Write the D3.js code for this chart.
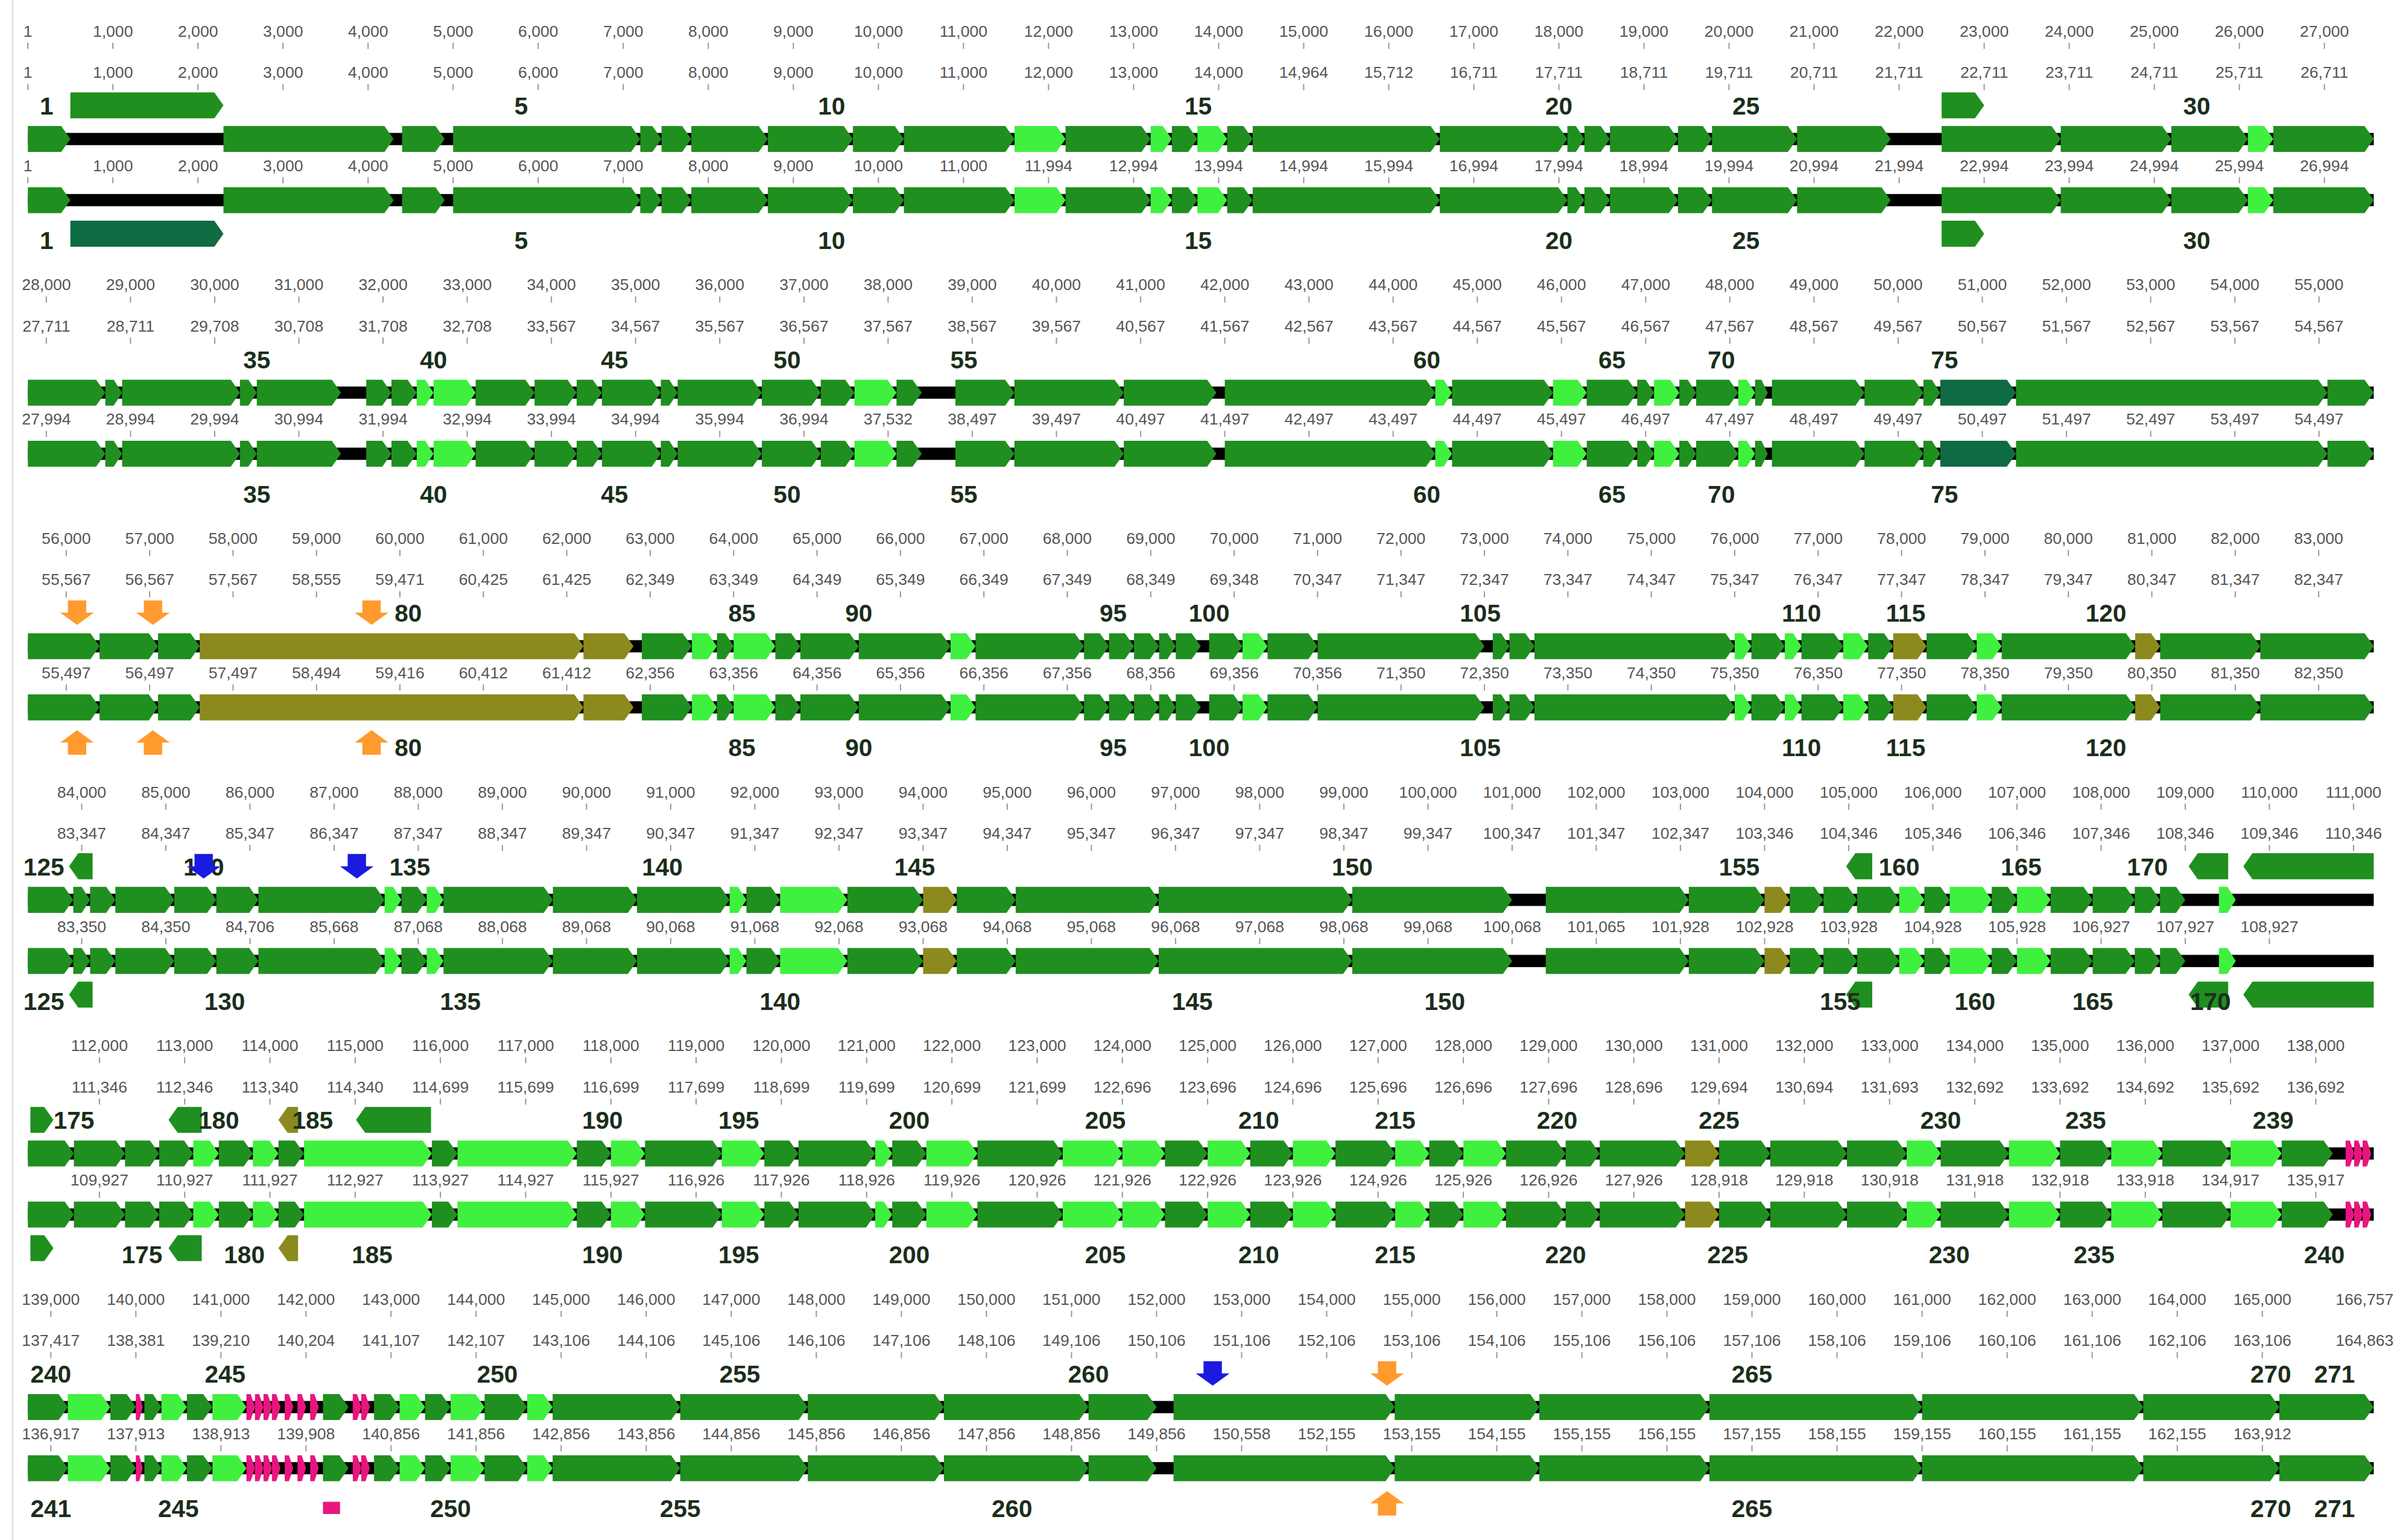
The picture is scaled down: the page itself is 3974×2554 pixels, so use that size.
<!DOCTYPE html>
<html><head><meta charset="utf-8">
<script src="https://cdn.jsdelivr.net/npm/d3@7"></script>
<style>body{margin:0;background:#fff}svg{display:block}</style>
</head><body>
<script>
// ---- DATA (kb) ----
const rowDomains = [[0,27.58],[27.78,55.65],[55.54,83.66],[83.36,111.24],[111.16,138.68],[138.73,166.31]];
const topTicks = [
 d3.range(0,28).map(i=>i*1000),
 d3.range(28,56).map(i=>i*1000),
 d3.range(56,84).map(i=>i*1000),
 d3.range(84,112).map(i=>i*1000),
 d3.range(112,139).map(i=>i*1000),
 d3.range(139,166).map(i=>i*1000).concat([166757])
];
const ruler2Labels = [
 [1,1000,2000,3000,4000,5000,6000,7000,8000,9000,10000,11000,12000,13000,14000,14964,15712,16711,17711,18711,19711,20711,21711,22711,23711,24711,25711,26711],
 [27711,28711,29708,30708,31708,32708,33567,34567,35567,36567,37567,38567,39567,40567,41567,42567,43567,44567,45567,46567,47567,48567,49567,50567,51567,52567,53567,54567],
 [55567,56567,57567,58555,59471,60425,61425,62349,63349,64349,65349,66349,67349,68349,69348,70347,71347,72347,73347,74347,75347,76347,77347,78347,79347,80347,81347,82347],
 [83347,84347,85347,86347,87347,88347,89347,90347,91347,92347,93347,94347,95347,96347,97347,98347,99347,100347,101347,102347,103346,104346,105346,106346,107346,108346,109346,110346],
 [111346,112346,113340,114340,114699,115699,116699,117699,118699,119699,120699,121699,122696,123696,124696,125696,126696,127696,128696,129694,130694,131693,132692,133692,134692,135692,136692],
 [137417,138381,139210,140204,141107,142107,143106,144106,145106,146106,147106,148106,149106,150106,151106,152106,153106,154106,155106,156106,157106,158106,159106,160106,161106,162106,163106,164863]
];
const ruler3Labels = [
 [1,1000,2000,3000,4000,5000,6000,7000,8000,9000,10000,11000,11994,12994,13994,14994,15994,16994,17994,18994,19994,20994,21994,22994,23994,24994,25994,26994],
 [27994,28994,29994,30994,31994,32994,33994,34994,35994,36994,37532,38497,39497,40497,41497,42497,43497,44497,45497,46497,47497,48497,49497,50497,51497,52497,53497,54497],
 [55497,56497,57497,58494,59416,60412,61412,62356,63356,64356,65356,66356,67356,68356,69356,70356,71350,72350,73350,74350,75350,76350,77350,78350,79350,80350,81350,82350],
 [83350,84350,84706,85668,87068,88068,89068,90068,91068,92068,93068,94068,95068,96068,97068,98068,99068,100068,101065,101928,102928,103928,104928,105928,106927,107927,108927],
 [109927,110927,111927,112927,113927,114927,115927,116926,117926,118926,119926,120926,121926,122926,123926,124926,125926,126926,127926,128918,129918,130918,131918,132918,133918,134917,135917],
 [136917,137913,138913,139908,140856,141856,142856,143856,144856,145856,146856,147856,148856,149856,150558,152155,153155,154155,155155,156155,157155,158155,159155,160155,161155,162155,163912]
];
const genes = [
 [[0,0.5,'g'],[2.3,4.3,'g'],[4.4,4.9,'g'],[5.0,7.2,'g'],[7.2,7.45,'g'],[7.45,7.8,'g'],[7.8,8.7,'g'],[8.7,9.7,'g'],[9.7,10.3,'g'],[10.3,11.6,'g'],[11.6,12.2,'l'],[12.2,13.2,'g'],[13.2,13.45,'l'],[13.45,13.75,'g'],[13.75,14.1,'l'],[14.1,14.4,'g'],[14.4,16.6,'g'],[16.6,18.1,'g'],[18.1,18.3,'g'],[18.3,18.6,'g'],[18.6,19.4,'g'],[19.4,19.8,'g'],[19.8,20.8,'g'],[20.8,21.9,'g'],[22.5,23.9,'g'],[23.9,25.2,'g'],[25.2,26.1,'g'],[26.1,26.4,'l'],[26.4,27.58,'g']],
 [[27.78,28.7,'g'],[28.7,28.9,'g'],[28.9,30.3,'g'],[30.3,30.5,'g'],[30.5,31.5,'g'],[31.8,32.1,'g'],[32.1,32.4,'g'],[32.4,32.6,'l'],[32.6,33.1,'l'],[33.1,33.8,'g'],[33.8,34.3,'g'],[34.3,34.6,'g'],[34.6,35.3,'g'],[35.3,35.5,'g'],[35.5,36.5,'g'],[36.5,37.2,'g'],[37.2,37.6,'g'],[37.6,38.1,'l'],[38.1,38.4,'g'],[38.8,39.5,'g'],[39.5,40.8,'g'],[40.8,41.9,'g'],[42.0,44.5,'g'],[44.5,44.7,'l'],[44.7,45.9,'g'],[45.9,46.3,'l'],[46.3,46.9,'g'],[46.9,47.1,'g'],[47.1,47.4,'l'],[47.4,47.6,'g'],[47.6,48.1,'g'],[48.1,48.3,'l'],[48.3,48.45,'g'],[48.5,49.6,'g'],[49.6,50.3,'g'],[50.3,50.5,'g'],[50.5,51.4,'d'],[51.4,55.1,'g'],[55.1,55.65,'g']],
 [[55.54,56.4,'g'],[56.4,57.1,'g'],[57.1,57.6,'g'],[57.6,62.2,'o'],[62.2,62.8,'o'],[62.9,63.5,'g'],[63.5,63.8,'l'],[63.8,64.0,'g'],[64.0,64.5,'l'],[64.5,64.8,'g'],[64.8,65.5,'g'],[65.5,66.6,'g'],[66.6,66.9,'l'],[66.9,68.2,'g'],[68.2,68.5,'g'],[68.5,68.8,'g'],[68.8,69.1,'g'],[69.1,69.3,'g'],[69.3,69.6,'g'],[69.7,70.1,'g'],[70.1,70.4,'l'],[70.4,71.0,'g'],[71.0,73.0,'g'],[73.1,73.3,'g'],[73.3,73.6,'g'],[73.6,76.0,'g'],[76.0,76.2,'l'],[76.2,76.6,'g'],[76.6,76.8,'l'],[76.8,77.3,'g'],[77.3,77.6,'l'],[77.6,77.9,'g'],[77.9,78.3,'o'],[78.3,78.9,'g'],[78.9,79.2,'l'],[79.2,80.8,'g'],[80.8,81.1,'o'],[81.1,82.3,'g'],[82.3,83.66,'g']],
 [[83.36,83.9,'g'],[83.9,84.1,'g'],[84.1,84.4,'g'],[84.4,85.1,'g'],[85.1,85.6,'g'],[85.6,86.1,'g'],[86.1,87.6,'g'],[87.6,87.8,'l'],[87.8,88.1,'g'],[88.1,88.3,'l'],[88.3,89.6,'g'],[89.6,90.6,'g'],[90.6,91.7,'g'],[91.7,91.9,'l'],[91.9,92.3,'g'],[92.3,93.1,'l'],[93.1,94.0,'g'],[94.0,94.4,'o'],[94.4,95.1,'g'],[95.1,96.8,'g'],[96.8,99.1,'g'],[99.1,101.0,'g'],[101.4,103.1,'g'],[103.1,104.0,'g'],[104.0,104.3,'o'],[104.3,104.7,'g'],[104.7,105.1,'g'],[105.1,105.6,'g'],[105.6,105.9,'l'],[105.9,106.2,'g'],[106.2,106.7,'l'],[106.7,107.0,'g'],[107.0,107.4,'l'],[107.4,107.9,'g'],[107.9,108.4,'g'],[108.4,108.7,'g'],[108.7,109.0,'g'],[109.4,109.6,'l']],
 [[111.16,111.7,'g'],[111.7,112.3,'g'],[112.3,112.7,'g'],[112.7,113.1,'g'],[113.1,113.4,'l'],[113.4,113.8,'g'],[113.8,114.1,'l'],[114.1,114.4,'g'],[114.4,115.9,'l'],[115.9,116.2,'g'],[116.2,117.6,'l'],[117.6,118.0,'g'],[118.0,118.4,'l'],[118.4,119.3,'g'],[119.3,119.8,'l'],[119.8,120.2,'g'],[120.2,121.1,'g'],[121.1,121.3,'l'],[121.3,121.7,'g'],[121.7,122.3,'l'],[122.3,123.3,'g'],[123.3,124.0,'l'],[124.0,124.5,'l'],[124.5,125.0,'g'],[125.0,125.5,'l'],[125.5,126.0,'g'],[126.0,126.5,'l'],[126.5,127.2,'g'],[127.2,127.6,'l'],[127.6,128.0,'g'],[128.0,128.5,'l'],[128.5,129.2,'g'],[129.2,129.6,'g'],[129.6,130.6,'g'],[130.6,131.0,'o'],[131.0,131.6,'g'],[131.6,132.5,'g'],[132.5,133.2,'g'],[133.2,133.6,'l'],[133.6,134.4,'g'],[134.4,135.0,'l'],[135.0,135.6,'g'],[135.6,136.2,'l'],[136.2,137.0,'g'],[137.0,137.6,'l'],[137.6,138.2,'g'],[138.35,138.45,'p'],[138.45,138.55,'p'],[138.55,138.65,'p']],
 [[138.73,139.2,'g'],[139.2,139.7,'l'],[139.7,140.0,'g'],[140.0,140.08,'p'],[140.1,140.3,'g'],[140.3,140.6,'l'],[140.6,140.9,'g'],[140.9,141.3,'l'],[141.3,141.4,'p'],[141.4,141.5,'p'],[141.5,141.6,'p'],[141.6,141.7,'p'],[141.75,141.85,'p'],[141.9,142.0,'p'],[142.05,142.15,'p'],[142.2,142.5,'g'],[142.55,142.65,'p'],[142.65,142.75,'p'],[142.8,143.1,'g'],[143.1,143.4,'l'],[143.4,143.7,'g'],[143.7,144.1,'l'],[144.1,144.6,'g'],[144.6,144.9,'l'],[144.9,146.4,'g'],[146.4,147.9,'g'],[147.9,149.5,'g'],[149.5,151.2,'g'],[151.2,152.0,'g'],[152.2,154.8,'g'],[154.8,156.5,'g'],[156.5,158.5,'g'],[158.5,161.0,'g'],[161.0,163.6,'g'],[163.6,165.2,'g'],[165.2,166.31,'g']]
];
const extraGenes = [
 [0,0.5,2.3,'g',1,'top'],[0,22.5,23.0,'g',1,'top'],[0,0.5,2.3,'d',1,'bot'],[0,22.5,23.0,'g',1,'bot'],
 [3,83.85,84.13,'g',-1,'top'],[3,104.97,105.28,'g',-1,'top'],[3,109.04,109.51,'g',-1,'top'],[3,109.69,111.24,'g',-1,'top'],
 [3,83.85,84.13,'g',-1,'bot'],[3,104.97,105.28,'g',-1,'bot'],[3,109.04,109.51,'g',-1,'bot'],[3,109.69,111.24,'g',-1,'bot'],
 [4,111.19,111.46,'g',1,'top'],[4,112.81,113.2,'g',-1,'top'],[4,114.1,114.33,'o',-1,'top'],[4,115.01,115.89,'g',-1,'top'],
 [4,111.19,111.46,'g',1,'bot'],[4,112.81,113.2,'g',-1,'bot'],[4,114.1,114.33,'o',-1,'bot'],
 [5,142.2,142.4,'p',0,'bot']
];
const topNums = [
 [[1,0.22],[5,5.8],[10,9.45],[15,13.76],[20,18.0],[25,20.2],[30,25.5]],
 [[35,30.5],[40,32.6],[45,34.75],[50,36.8],[55,38.9],[60,44.4],[65,46.6],[70,47.9],[75,50.55]],
 [[80,60.1],[85,64.1],[90,65.5],[95,68.55],[100,69.7],[105,72.95],[110,76.8],[115,78.05],[120,80.45]],
 [[125,83.55],[130,85.45],[135,87.9],[140,90.9],[145,93.9],[150,99.1],[155,103.7],[160,105.6],[165,107.05],[170,108.55]],
 [[175,111.7],[180,113.4],[185,114.5],[190,117.9],[195,119.5],[200,121.5],[205,123.8],[210,125.6],[215,127.2],[220,129.1],[225,131.0],[230,133.6],[235,135.3],[239,137.5]],
 [[240,139.0],[245,141.05],[250,144.25],[255,147.1],[260,151.2],[265,159.0],[270,165.1],[271,165.85]]
];
const botNums = [
 topNums[0], topNums[1], topNums[2],
 [[125,83.55],[130,85.7],[135,88.5],[140,92.3],[145,97.2],[150,100.2],[155,104.9],[160,106.5],[165,107.9],[170,109.3]],
 [[175,112.5],[180,113.7],[185,115.2],[190,117.9],[195,119.5],[200,121.5],[205,123.8],[210,125.6],[215,127.2],[220,129.2],[225,131.1],[230,133.7],[235,135.4],[240,138.1]],
 [[241,139.0],[245,140.5],[250,143.7],[255,146.4],[260,150.3],[265,159.0],[270,165.1],[271,165.85]]
];
const markers = [
 [2,56.13,'orange','top'],[2,57.04,'orange','top'],[2,59.66,'orange','top'],
 [2,56.13,'orange','bot'],[2,57.04,'orange','bot'],[2,59.66,'orange','bot'],
 [3,85.45,'blue','top'],[3,87.27,'blue','top'],
 [5,152.66,'blue','top'],[5,154.71,'orange','top'],[5,154.71,'orange','bot']
];
const colors = {g:'#1f8f1f', l:'#3ff03f', o:'#8c8a1e', p:'#e8157f', d:'#0f6b42', orange:'#ff9a2e', blue:'#1a1ae0'};

// ---- DRAW ----
const W=1568,H=1008;
const svg=d3.select('body').append('svg').attr('width',3974).attr('height',2554).attr('viewBox',`0 0 ${W} ${H}`);
svg.append('line').attr('x1',8).attr('x2',8).attr('y1',0).attr('y2',H).attr('stroke','#ddd').attr('stroke-width',1);
const fmt=d3.format(',');
const period=166;
function genePath(x0,x1,y,h,strand){
  const w=x1-x0, p=Math.min(6,w/2);
  if(strand===0) return `M${x0},${y-h/2}H${x1}V${y+h/2}H${x0}Z`;
  if(strand>0) return `M${x0},${y-h/2}H${x1-p}L${x1},${y}L${x1-p},${y+h/2}H${x0}Z`;
  return `M${x0+p},${y-h/2}H${x1}V${y+h/2}H${x0+p}L${x0},${y}Z`;
}
rowDomains.forEach((dom,r)=>{
  const g=svg.append('g').attr('transform',`translate(0,${r*period})`);
  const x=d3.scaleLinear().domain(dom).range([18,1553]);
  const tk=topTicks[r];
  function ruler(y,labels){
    labels.forEach((lab,i)=>{
      const px=x(tk[Math.min(i,tk.length-1)]/1000);
      g.append('text').attr('x',Math.min(px,1566)).attr('y',y).attr('text-anchor',px>1540?'end':'middle')
        .attr('font-family','Liberation Sans, Arial').attr('font-size',10.5).attr('fill','#555').text(fmt(lab));
      g.append('line').attr('x1',px).attr('x2',px).attr('y1',y+4).attr('y2',y+8).attr('stroke','#999').attr('stroke-width',0.8);
    });
  }
  ruler(24,tk.map(v=>v===0?1:v));
  ruler(51,ruler2Labels[r]);
  ruler(112,ruler3Labels[r]);
  [91,131].forEach(ty=>{
    g.append('rect').attr('x',x(dom[0])).attr('width',x(dom[1])-x(dom[0])).attr('y',ty-4).attr('height',8).attr('fill','#000');
    g.selectAll(null).data(genes[r]).join('path')
      .attr('d',d=>genePath(x(d[0]),x(d[1]),ty,17,1)).attr('fill',d=>colors[d[2]]);
  });
  extraGenes.filter(e=>e[0]===r).forEach(e=>{
    const y = e[5]==='top'?69:153;
    const h = e[3]==='p'?8:17;
    g.append('path').attr('d',genePath(x(e[1]),x(e[2]),e[5]==='top'?y:(e[3]==='p'?y+4:y),h,e[4])).attr('fill',colors[e[3]]);
  });
  function nums(arr,y){
    arr.forEach(([n,kb])=>g.append('text').attr('x',x(kb)).attr('y',y).attr('text-anchor','middle')
      .attr('font-family','Liberation Sans, Arial').attr('font-weight','bold').attr('font-size',16).attr('fill','#1b2e1b').text(n));
  }
  nums(topNums[r],75); nums(botNums[r],163);
  markers.filter(m=>m[0]===r).forEach(m=>{
    const px=x(m[1]); const c=colors[m[2]];
    const p = m[3]==='top'
      ? `M${px-6},61H${px+6}V69H${px+11}L${px},77L${px-11},69H${px-6}Z`
      : `M${px-6},162H${px+6}V154H${px+11}L${px},146L${px-11},154H${px-6}Z`;
    g.append('path').attr('d',p).attr('fill',c);
  });
});
</script>
</body></html>
